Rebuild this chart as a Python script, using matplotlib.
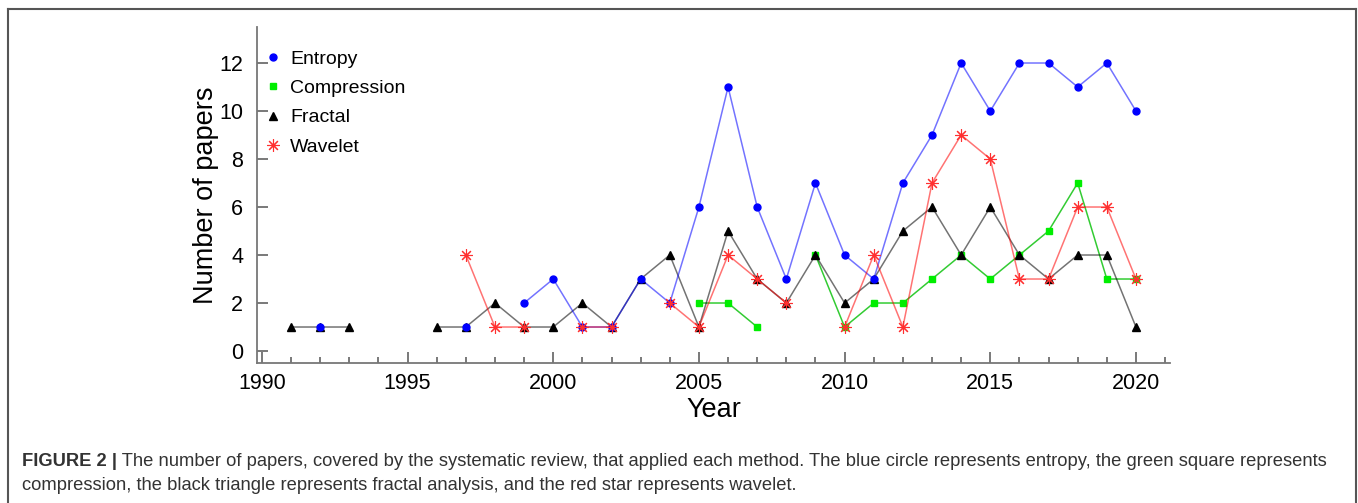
import numpy as np
import matplotlib
matplotlib.use("Agg")
import matplotlib.pyplot as plt
from matplotlib.lines import Line2D

nan = np.nan
years = list(range(1991, 2021))

# number of papers per year, nan = no papers (line break)
entropy = [nan, 1, nan, nan, nan, nan, 1, nan, 2, 3, 1, 1, 3, 2, 6, 11, 6, 3, 7, 4,
           3, 7, 9, 12, 10, 12, 12, 11, 12, 10]
compression = [nan, nan, nan, nan, nan, nan, nan, nan, nan, nan, nan, nan, nan, nan,
               2, 2, 1, nan, 4, 1, 2, 2, 3, 4, 3, 4, 5, 7, 3, 3]
fractal = [1, 1, 1, nan, nan, 1, 1, 2, 1, 1, 2, 1, 3, 4, 1, 5, 3, 2, 4, 2,
           3, 5, 6, 4, 6, 4, 3, 4, 4, 1]
wavelet = [nan, nan, nan, nan, nan, nan, 4, 1, 1, nan, 1, 1, nan, 2, 1, 4, 3, 2, nan, 1,
           4, 1, 7, 9, 8, 3, 3, 6, 6, 3]

caption_bold = "FIGURE 2 |"
caption_1 = (" The number of papers, covered by the systematic review, that applied each method. "
             "The blue circle represents entropy, the green square represents")
caption_2 = ("compression, the black triangle represents fractal analysis, "
             "and the red star represents wavelet.")

plt.rcParams["font.family"] = ["Liberation Sans", "DejaVu Sans"]

fig = plt.figure(figsize=(13.58, 5.03), dpi=100)
ax = fig.add_axes([0.1892, 0.2783, 0.6724, 0.668])

# bottom to top: compression, fractal, entropy, wavelet
ax.plot(years, compression, color=(0.0, 0.75, 0.0, 0.8), lw=1.1, marker="s", ms=5,
        mfc="#00ee00", mec="#00ee00", label="Compression")
ax.plot(years, fractal, color=(0.0, 0.0, 0.0, 0.55), lw=1.1, marker="^", ms=6,
        mfc="black", mec="black", label="Fractal")
ax.plot(years, entropy, color=(0.0, 0.0, 1.0, 0.55), lw=1.1, marker="o", ms=5,
        mfc="#0000ff", mec="#0000ff", label="Entropy")
ax.plot(years, wavelet, color=(1.0, 0.0, 0.0, 0.55), lw=1.1, marker=(8, 2, 0), ms=9,
        mfc="#ff3030", mec="#ff3030", mew=0.8, label="Wavelet")

ax.set_xlim(1989.83, 2021.17)
ax.set_ylim(-0.5, 13.5)
ax.set_xticks(range(1990, 2021, 5))
ax.set_xticks(range(1990, 2022), minor=True)
ax.set_yticks(range(0, 13, 2))

for s in ["top", "right"]:
    ax.spines[s].set_visible(False)
for s in ["left", "bottom"]:
    ax.spines[s].set_color("#777777")
    ax.spines[s].set_linewidth(1.3)

ax.tick_params(which="major", direction="in", length=8, width=1.1, color="#555555",
               labelsize=15.5)
ax.tick_params(which="minor", direction="in", length=4, width=1.1, color="#555555")
ax.tick_params(axis="x", pad=7)
ax.tick_params(axis="y", pad=10)

ax.set_xlabel("Year", fontsize=19.5, labelpad=2)
ax.set_ylabel("Number of papers", fontsize=19.5, labelpad=0)

h, l = ax.get_legend_handles_labels()
order = [2, 0, 1, 3]
handles = [Line2D([], [], ls="none", marker=h[i].get_marker(), ms=h[i].get_markersize(),
                  mfc=h[i].get_mfc(), mec=h[i].get_mec(), mew=h[i].get_mew())
           for i in order]
ax.legend(handles, [l[i] for i in order], loc="upper left", bbox_to_anchor=(0.0005, 0.954),
          frameon=False, fontsize=14, handlelength=0.8, handletextpad=0.48,
          labelspacing=0.6, borderaxespad=0)

# border around the figure panel (open at the bottom)
W, H = 1358, 503
bx0, bx1, by1 = 8 / W, 1356 / W, 1 - 9 / H
for xs, ys in [([bx0, bx0], [0, by1]), ([bx0, bx1], [by1, by1]), ([bx1, bx1], [by1, 0])]:
    fig.add_artist(Line2D(xs, ys, color="#555555", lw=1.5, transform=fig.transFigure))

# caption
t = fig.text(22 / W, 1 - 461 / H, caption_bold, fontsize=13.2, fontweight="bold",
             color="#333333", va="center")
fig.canvas.draw()
bb = t.get_window_extent(renderer=fig.canvas.get_renderer())
fig.text(bb.x1 / W, 1 - 461 / H, caption_1, fontsize=13.2, color="#333333", va="center")
fig.text(22 / W, 1 - 486 / H, caption_2, fontsize=13.2, color="#333333", va="center")

fig.savefig("out.png", dpi=100)
